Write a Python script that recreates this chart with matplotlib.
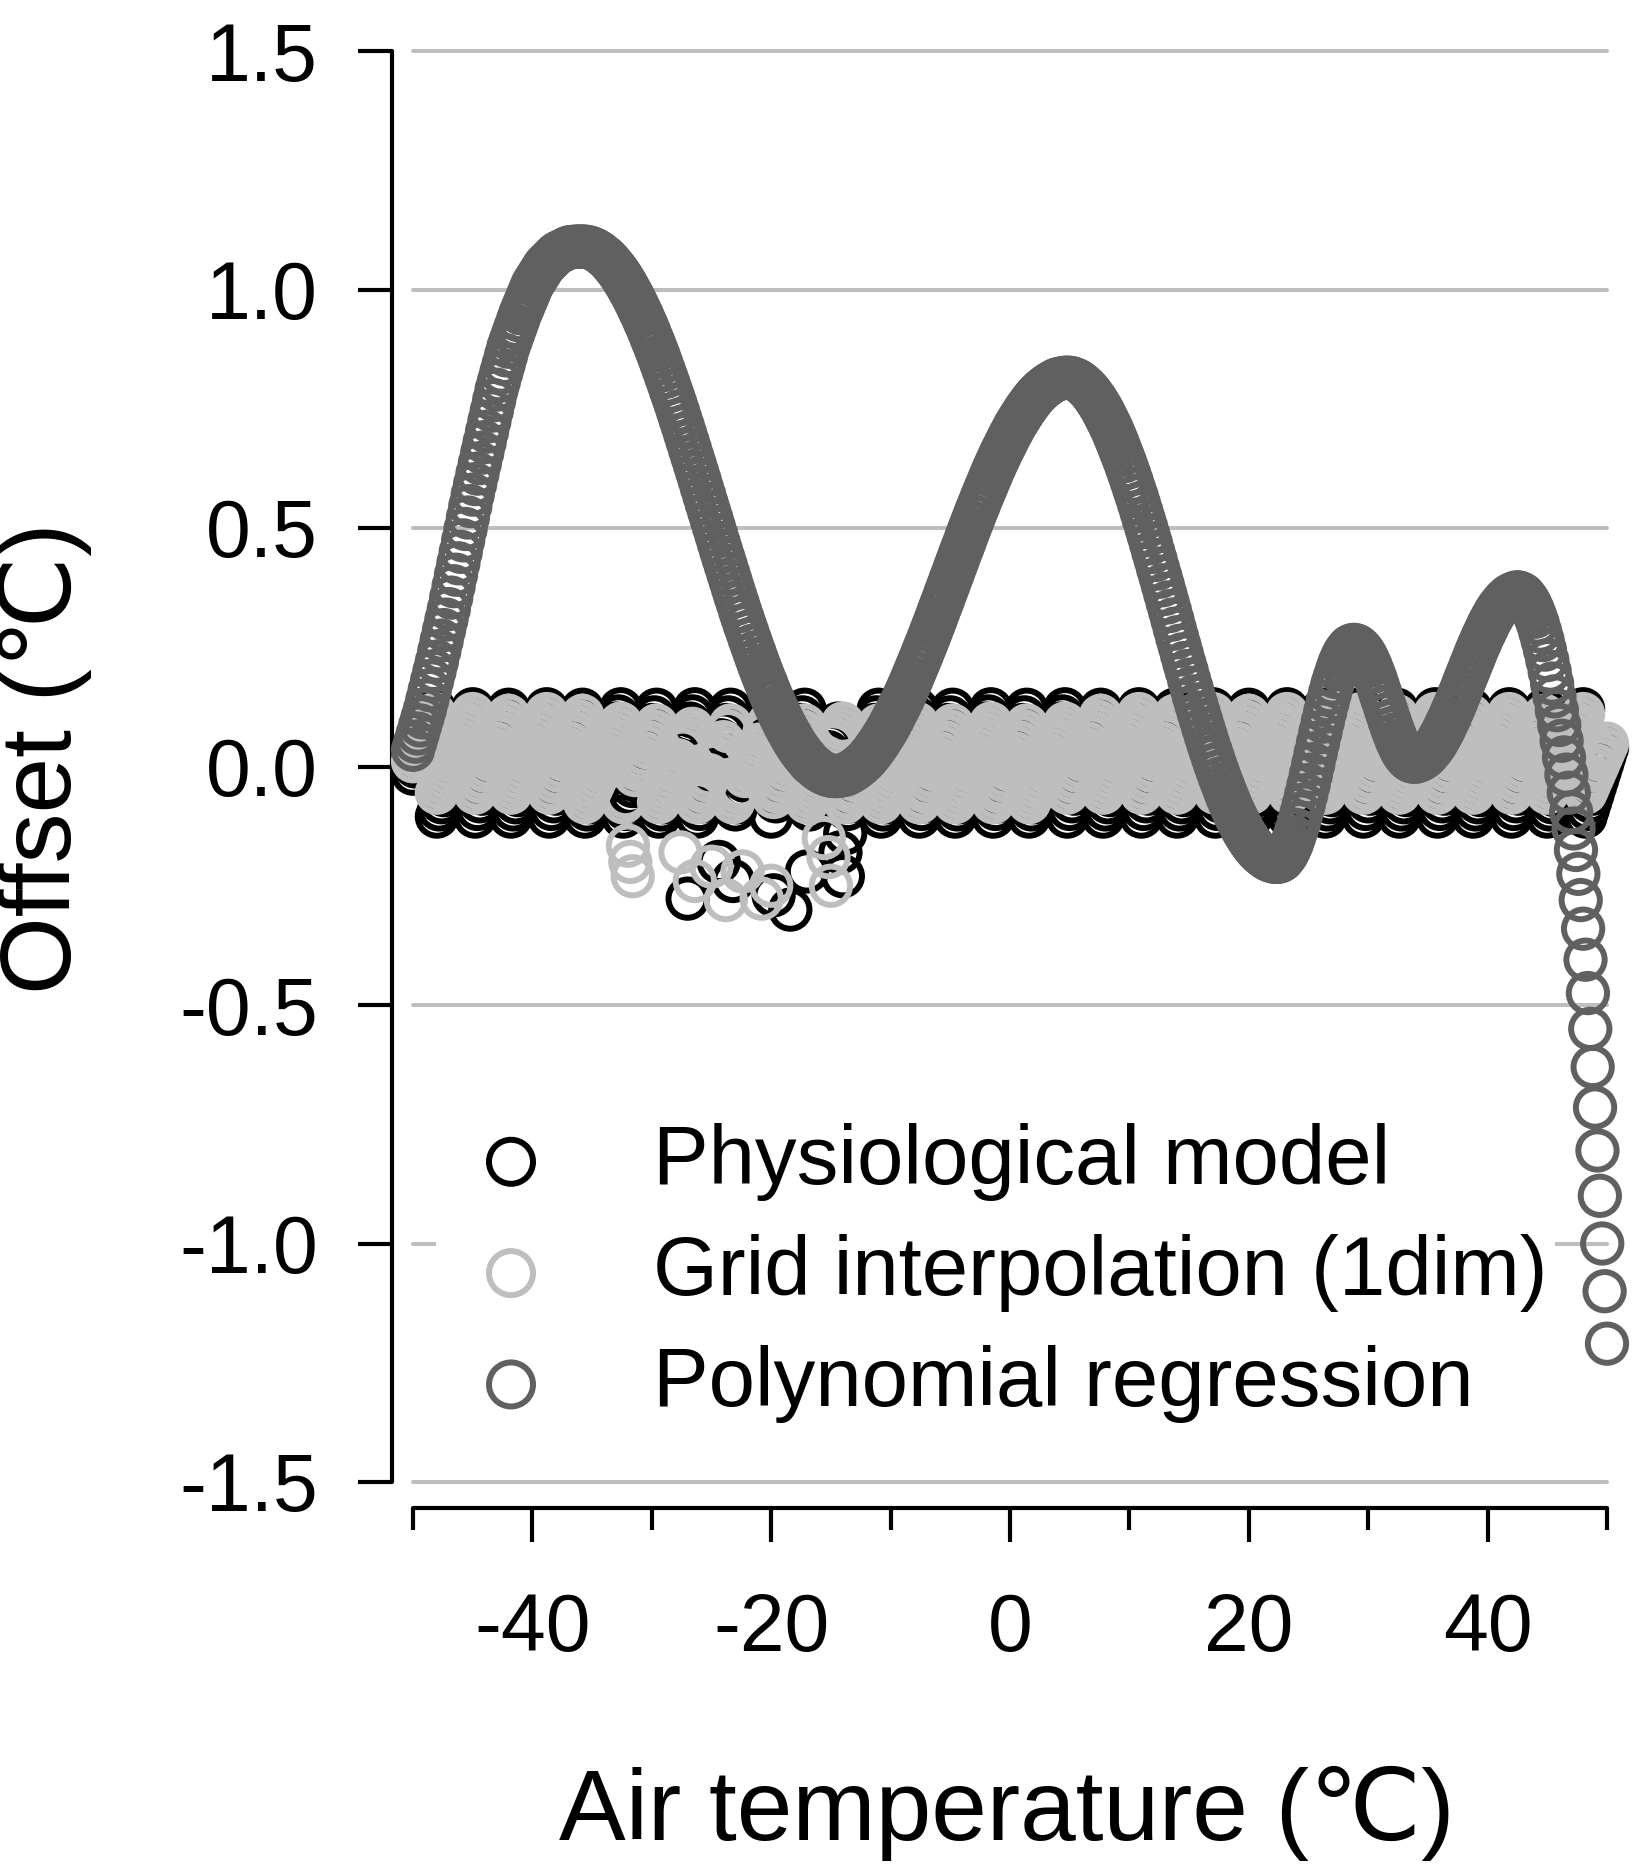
import numpy as np
import matplotlib
matplotlib.use("Agg")
import matplotlib.pyplot as plt

plt.rcParams['font.family'] = ['Liberation Sans', 'DejaVu Sans']

# ---------------- data ----------------
# air temperature grid (deg C), -50 .. 50 in 0.2 steps
air_temperature = np.round(np.linspace(-50, 50, 501), 1)

physiological_offset = [
    -0.015, 0.000, 0.015, 0.030, 0.045, 0.060, 0.075, 0.090, 0.105, 0.120,
    -0.105, -0.090, -0.075, -0.060, -0.045, -0.030, -0.015, 0.000, 0.015, 0.030, 0.045, 0.060, 0.075, 0.090, 0.105, 0.120,
    -0.105, -0.089, -0.073, -0.057, -0.041, -0.025, -0.009, 0.007, 0.023, 0.039, 0.055, 0.071, 0.087, 0.103, 0.119,
    -0.105, -0.090, -0.075, -0.060, -0.045, -0.030, -0.015, 0.000, 0.015, 0.030, 0.045, 0.060, 0.075, 0.090, 0.105, 0.120,
    -0.105, -0.089, -0.073, -0.057, -0.041, -0.025, -0.009, 0.007, 0.023, 0.039, 0.055, 0.071, 0.087, 0.103, 0.119,
    -0.105, -0.090, -0.075, -0.060, -0.045, -0.030, -0.015, 0.000, 0.015, 0.030, 0.045, 0.060, 0.075, 0.090, 0.105, 0.120,
    -0.105, -0.089, -0.073, -0.057, -0.041, -0.025, -0.009, 0.007, 0.023, 0.039, 0.055, 0.071, 0.087, 0.103, 0.119,
    -0.105, -0.090, -0.075, -0.060, -0.045, -0.030, -0.015, 0.000, 0.015, 0.030, 0.045, 0.060, -0.277, 0.090, 0.105, 0.120,
    -0.105, -0.089, -0.073, -0.057, -0.041, -0.025, -0.009, 0.007, 0.023, -0.200, 0.055, 0.071, 0.087, 0.103, 0.119,
    -0.240, -0.090, -0.075, -0.060, -0.045, -0.030, -0.015, 0.000, 0.015, 0.030, 0.045, 0.060, 0.075, 0.090, 0.105, 0.120,
    -0.105, -0.270, -0.073, -0.057, -0.041, -0.025, -0.009, 0.007, -0.300, 0.039, 0.055, 0.071, 0.087, 0.103, 0.119,
    -0.220, -0.090, -0.075, -0.060, -0.045, -0.030, -0.015, 0.000, 0.015, 0.030, 0.045, 0.060, 0.075, 0.090, -0.180, -0.230,
    -0.140, -0.089, -0.073, -0.057, -0.041, -0.025, -0.009, 0.007, 0.023, 0.039, 0.055, 0.071, 0.087, 0.103, 0.119,
    -0.105, -0.090, -0.075, -0.060, -0.045, -0.030, -0.015, 0.000, 0.015, 0.030, 0.045, 0.060, 0.075, 0.090, 0.105, 0.120,
    -0.105, -0.089, -0.073, -0.057, -0.041, -0.025, -0.009, 0.007, 0.023, 0.039, 0.055, 0.071, 0.087, 0.103, 0.119,
    -0.105, -0.090, -0.075, -0.060, -0.045, -0.030, -0.015, 0.000, 0.015, 0.030, 0.045, 0.060, 0.075, 0.090, 0.105, 0.120,
    -0.105, -0.089, -0.073, -0.057, -0.041, -0.025, -0.009, 0.007, 0.023, 0.039, 0.055, 0.071, 0.087, 0.103, 0.119,
    -0.105, -0.090, -0.075, -0.060, -0.045, -0.030, -0.015, 0.000, 0.015, 0.030, 0.045, 0.060, 0.075, 0.090, 0.105, 0.120,
    -0.105, -0.089, -0.073, -0.057, -0.041, -0.025, -0.009, 0.007, 0.023, 0.039, 0.055, 0.071, 0.087, 0.103, 0.119,
    -0.105, -0.090, -0.075, -0.060, -0.045, -0.030, -0.015, 0.000, 0.015, 0.030, 0.045, 0.060, 0.075, 0.090, 0.105, 0.120,
    -0.105, -0.089, -0.073, -0.057, -0.041, -0.025, -0.009, 0.007, 0.023, 0.039, 0.055, 0.071, 0.087, 0.103, 0.119,
    -0.105, -0.090, -0.075, -0.060, -0.045, -0.030, -0.015, 0.000, 0.015, 0.030, 0.045, 0.060, 0.075, 0.090, 0.105, 0.120,
    -0.105, -0.089, -0.073, -0.057, -0.041, -0.025, -0.009, 0.007, 0.023, 0.039, 0.055, 0.071, 0.087, 0.103, 0.119,
    -0.105, -0.090, -0.075, -0.060, -0.045, -0.030, -0.015, 0.000, 0.015, 0.030, 0.045, 0.060, 0.075, 0.090, 0.105, 0.120,
    -0.105, -0.089, -0.073, -0.057, -0.041, -0.025, -0.009, 0.007, 0.023, 0.039, 0.055, 0.071, 0.087, 0.103, 0.119,
    -0.105, -0.090, -0.075, -0.060, -0.045, -0.030, -0.015, 0.000, 0.015, 0.030, 0.045, 0.060, 0.075, 0.090, 0.105, 0.120,
    -0.105, -0.089, -0.073, -0.057, -0.041, -0.025, -0.009, 0.007, 0.023, 0.039, 0.055, 0.071, 0.087, 0.103, 0.119,
    -0.105, -0.090, -0.075, -0.060, -0.045, -0.030, -0.015, 0.000, 0.015, 0.030, 0.045, 0.060, 0.075, 0.090, 0.105, 0.120,
    -0.105, -0.089, -0.073, -0.057, -0.041, -0.025, -0.009, 0.007, 0.023, 0.039, 0.055, 0.071, 0.087, 0.103, 0.119,
    -0.105, -0.090, -0.075, -0.060, -0.045, -0.030, -0.015, 0.000, 0.015, 0.030, 0.045, 0.060, 0.075, 0.090, 0.105, 0.120,
    -0.105, -0.089, -0.073, -0.057, -0.041, -0.025, -0.009, 0.007, 0.023, 0.039, 0.055, 0.071, 0.087, 0.103, 0.119,
    -0.105, -0.090, -0.075, -0.060, -0.045, -0.030, -0.015, 0.000, 0.015, 0.030, 0.045, 0.060, 0.075, 0.090, 0.105, 0.120,
    -0.105, -0.089, -0.073, -0.057, -0.041, -0.025, -0.009, 0.007, 0.023, 0.039,
]

grid_interp_offset = [
    0.011, 0.022, 0.033, 0.044, 0.055, 0.066, 0.077, 0.088, 0.099, 0.110,
    -0.055, -0.044, -0.033, -0.022, -0.011, 0.000, 0.011, 0.022, 0.033, 0.044, 0.055, 0.066, 0.077, 0.088, 0.099, 0.110,
    -0.055, -0.044, -0.032, -0.021, -0.009, 0.002, 0.014, 0.025, 0.037, 0.048, 0.060, 0.071, 0.083, 0.094, 0.106,
    -0.055, -0.044, -0.033, -0.022, -0.011, 0.000, 0.011, 0.022, 0.033, 0.044, 0.055, 0.066, 0.077, 0.088, 0.099, 0.110,
    -0.055, -0.044, -0.032, -0.021, -0.009, 0.002, 0.014, 0.025, 0.037, 0.048, 0.060, 0.071, 0.083, 0.094, 0.106,
    -0.075, -0.064, -0.053, -0.042, -0.031, -0.020, -0.009, 0.002, 0.013, 0.024, 0.035, 0.046, 0.057, 0.068, 0.079, 0.090,
    -0.075, -0.064, -0.166, -0.200, -0.230, -0.018, -0.006, 0.005, 0.017, 0.028, 0.040, 0.051, 0.063, 0.074, 0.086,
    -0.075, -0.064, -0.053, -0.042, -0.031, -0.020, -0.009, 0.002, 0.013, -0.180, 0.035, 0.046, 0.057, 0.068, 0.079, -0.240,
    -0.075, -0.064, -0.052, -0.041, -0.029, -0.018, -0.210, 0.005, 0.017, 0.028, 0.040, 0.051, -0.280, 0.074, 0.086,
    -0.075, -0.064, -0.053, -0.042, -0.220, -0.020, -0.009, 0.002, 0.013, 0.024, 0.035, 0.046, -0.277, 0.068, 0.079, 0.090,
    -0.250, -0.064, -0.052, -0.041, -0.029, -0.018, -0.006, 0.005, 0.017, 0.028, 0.040, 0.051, 0.063, 0.074, 0.086,
    -0.075, -0.064, -0.053, -0.042, -0.031, -0.020, -0.009, -0.150, 0.013, -0.190, -0.250, 0.046, 0.057, 0.068, 0.079, 0.090,
    -0.075, -0.064, -0.052, -0.041, -0.029, -0.018, -0.006, 0.005, 0.017, 0.028, 0.040, 0.051, 0.063, 0.074, 0.086,
    -0.075, -0.064, -0.053, -0.042, -0.031, -0.020, -0.009, 0.002, 0.013, 0.024, 0.035, 0.046, 0.057, 0.068, 0.079, 0.090,
    -0.075, -0.064, -0.052, -0.041, -0.029, -0.018, -0.006, 0.005, 0.017, 0.028, 0.040, 0.051, 0.063, 0.074, 0.086,
    -0.075, -0.064, -0.053, -0.042, -0.031, -0.020, -0.009, 0.002, 0.013, 0.024, 0.035, 0.046, 0.057, 0.068, 0.079, 0.090,
    -0.075, -0.064, -0.052, -0.041, -0.029, -0.018, -0.006, 0.005, 0.017, 0.028, 0.040, 0.051, 0.063, 0.074, 0.086,
    -0.075, -0.064, -0.053, -0.042, -0.031, -0.020, -0.009, 0.002, 0.013, 0.024, 0.035, 0.046, 0.057, 0.068, 0.079, 0.090,
    -0.055, -0.044, -0.032, -0.021, -0.009, 0.002, 0.014, 0.025, 0.037, 0.048, 0.060, 0.071, 0.083, 0.094, 0.106,
    -0.055, -0.044, -0.033, -0.022, -0.011, 0.000, 0.011, 0.022, 0.033, 0.044, 0.055, 0.066, 0.077, 0.088, 0.099, 0.110,
    -0.055, -0.044, -0.032, -0.021, -0.009, 0.002, 0.014, 0.025, 0.037, 0.048, 0.060, 0.071, 0.083, 0.094, 0.106,
    -0.055, -0.044, -0.033, -0.022, -0.011, 0.000, 0.011, 0.022, 0.033, 0.044, 0.055, 0.066, 0.077, 0.088, 0.099, 0.110,
    -0.055, -0.044, -0.032, -0.021, -0.009, 0.002, 0.014, 0.025, 0.037, 0.048, 0.060, 0.071, 0.083, 0.094, 0.106,
    -0.055, -0.044, -0.033, -0.022, -0.011, 0.000, 0.011, 0.022, 0.033, 0.044, 0.055, 0.066, 0.077, 0.088, 0.099, 0.110,
    -0.055, -0.044, -0.032, -0.021, -0.009, 0.002, 0.014, 0.025, 0.037, 0.048, 0.060, 0.071, 0.083, 0.094, 0.106,
    -0.055, -0.044, -0.033, -0.022, -0.011, 0.000, 0.011, 0.022, 0.033, 0.044, 0.055, 0.066, 0.077, 0.088, 0.099, 0.110,
    -0.055, -0.044, -0.032, -0.021, -0.009, 0.002, 0.014, 0.025, 0.037, 0.048, 0.060, 0.071, 0.083, 0.094, 0.106,
    -0.055, -0.044, -0.033, -0.022, -0.011, 0.000, 0.011, 0.022, 0.033, 0.044, 0.055, 0.066, 0.077, 0.088, 0.099, 0.110,
    -0.055, -0.044, -0.032, -0.021, -0.009, 0.002, 0.014, 0.025, 0.037, 0.048, 0.060, 0.071, 0.083, 0.094, 0.106,
    -0.055, -0.044, -0.033, -0.022, -0.011, 0.000, 0.011, 0.022, 0.033, 0.044, 0.055, 0.066, 0.077, 0.088, 0.099, 0.110,
    -0.055, -0.044, -0.032, -0.021, -0.009, 0.002, 0.014, 0.025, 0.037, 0.048, 0.060, 0.071, 0.083, 0.094, 0.106,
    -0.055, -0.044, -0.033, -0.022, -0.011, 0.000, 0.011, 0.022, 0.033, 0.044, 0.055, 0.066, 0.077, 0.088, 0.099, 0.110,
    -0.055, -0.044, -0.032, -0.021, -0.009, 0.002, 0.014, 0.025, 0.037, 0.048,
]

polynomial_offset = [
    0.035, 0.052, 0.069, 0.086, 0.103, 0.120, 0.140, 0.160, 0.180, 0.200,
    0.220, 0.242, 0.264, 0.286, 0.308, 0.330, 0.354, 0.378, 0.402, 0.426,
    0.450, 0.474, 0.498, 0.522, 0.546, 0.570, 0.592, 0.614, 0.636, 0.658,
    0.680, 0.702, 0.724, 0.746, 0.768, 0.790, 0.808, 0.826, 0.844, 0.862,
    0.880, 0.894, 0.908, 0.922, 0.936, 0.950, 0.962, 0.974, 0.986, 0.998,
    1.010, 1.018, 1.026, 1.034, 1.042, 1.050, 1.055, 1.060, 1.065, 1.070,
    1.075, 1.078, 1.080, 1.083, 1.085, 1.088, 1.089, 1.089, 1.090, 1.090,
    1.090, 1.090,
    1.090, 1.089, 1.088, 1.086, 1.084, 1.081, 1.078, 1.074, 1.070, 1.066,
    1.061, 1.055, 1.049, 1.043, 1.036, 1.029, 1.021, 1.013, 1.004, 0.995,
    0.986, 0.976, 0.966, 0.955, 0.945, 0.933, 0.922, 0.910, 0.897, 0.885,
    0.872, 0.859, 0.845, 0.831, 0.817, 0.803, 0.788, 0.774, 0.759, 0.744,
    0.728, 0.713, 0.697, 0.681, 0.665, 0.649, 0.633, 0.617, 0.601, 0.584,
    0.568, 0.551, 0.535, 0.519, 0.502, 0.486, 0.469, 0.453, 0.437, 0.421,
    0.405, 0.389, 0.373, 0.357, 0.342, 0.326, 0.311, 0.296, 0.282, 0.267,
    0.253, 0.239, 0.225, 0.211, 0.198, 0.185, 0.173, 0.160, 0.148, 0.137,
    0.125, 0.115, 0.104, 0.094, 0.084, 0.075, 0.066, 0.057, 0.049, 0.041,
    0.034, 0.027, 0.021, 0.015, 0.009, 0.004, 0.000, -0.004, -0.008, -0.011,
    -0.014, -0.016, -0.018, -0.019, -0.020, -0.020,
    -0.020, -0.019, -0.018, -0.017, -0.015, -0.012, -0.009, -0.006, -0.002, 0.002,
    0.006, 0.011, 0.016, 0.022, 0.028, 0.035, 0.042, 0.049, 0.057, 0.065,
    0.073, 0.081, 0.091, 0.100, 0.110, 0.120, 0.130, 0.140, 0.151, 0.162,
    0.173, 0.185, 0.197, 0.209, 0.221, 0.233, 0.246, 0.258, 0.271, 0.284,
    0.297, 0.310, 0.324, 0.337, 0.350, 0.364, 0.377, 0.391, 0.404, 0.418,
    0.431, 0.445, 0.458, 0.471, 0.485, 0.498, 0.511, 0.524, 0.537, 0.549,
    0.562, 0.574, 0.586, 0.598, 0.610, 0.622, 0.633, 0.644, 0.655, 0.665,
    0.675, 0.685, 0.695, 0.704, 0.714, 0.722, 0.730, 0.738, 0.746, 0.753,
    0.760, 0.767, 0.773, 0.779, 0.784, 0.789, 0.793, 0.797, 0.801, 0.804,
    0.807, 0.810, 0.812, 0.813, 0.814, 0.815, 0.815,
    0.815, 0.814, 0.812, 0.810, 0.807, 0.803, 0.799, 0.794, 0.789, 0.783,
    0.776, 0.769, 0.761, 0.753, 0.744, 0.734, 0.724, 0.714, 0.703, 0.691,
    0.679, 0.666, 0.653, 0.640, 0.626, 0.612, 0.597, 0.582, 0.567, 0.551,
    0.535, 0.518, 0.502, 0.485, 0.468, 0.450, 0.433, 0.415, 0.398, 0.380,
    0.362, 0.344, 0.326, 0.308, 0.289, 0.271, 0.253, 0.235, 0.217, 0.200,
    0.182, 0.165, 0.147, 0.130, 0.113, 0.097, 0.080, 0.064, 0.048, 0.033,
    0.018, 0.003, -0.011, -0.025, -0.038, -0.051, -0.064, -0.076, -0.088, -0.099,
    -0.109, -0.119, -0.129, -0.138, -0.146, -0.154, -0.161, -0.168, -0.174, -0.179,
    -0.184, -0.188, -0.192, -0.195, -0.197, -0.199, -0.200, -0.200,
    -0.199, -0.196, -0.190, -0.183, -0.173, -0.162, -0.148, -0.133, -0.117, -0.099,
    -0.080, -0.060, -0.039, -0.017, 0.005, 0.028, 0.050, 0.072, 0.094, 0.115,
    0.135, 0.154, 0.172, 0.188, 0.203, 0.217, 0.228, 0.238, 0.245, 0.251,
    0.254, 0.255,
    0.254, 0.251, 0.246, 0.240, 0.232, 0.222, 0.211, 0.198, 0.185, 0.170,
    0.155, 0.140, 0.125, 0.110, 0.095, 0.080, 0.067, 0.054, 0.043, 0.033,
    0.025, 0.019, 0.014, 0.011, 0.010,
    0.010, 0.012, 0.014, 0.017, 0.021, 0.026, 0.032, 0.038, 0.045, 0.053,
    0.062, 0.071, 0.081, 0.092, 0.102, 0.114, 0.125, 0.137, 0.150, 0.162,
    0.175, 0.188, 0.200, 0.213, 0.225, 0.238, 0.250, 0.261, 0.273, 0.283,
    0.294, 0.304, 0.313, 0.322, 0.330, 0.337, 0.343, 0.349, 0.354, 0.358,
    0.361, 0.363, 0.365, 0.365,
    0.363, 0.360, 0.354, 0.347, 0.338, 0.327, 0.314, 0.300, 0.283, 0.265,
    0.245, 0.223, 0.199, 0.174, 0.147, 0.118, 0.087, 0.054, 0.019, -0.017,
    -0.055, -0.096, -0.130, -0.175, -0.225, -0.280, -0.340, -0.405, -0.475, -0.550,
    -0.630, -0.715, -0.805, -0.900, -1.000, -1.100, -1.210,
]

series_labels = ["Physiological model", "Grid interpolation (1dim)", "Polynomial regression"]
series_colors = ["#000000", "#BEBEBE", "#606060"]
y_ticks = [-1.5, -1.0, -0.5, 0.0, 0.5, 1.0, 1.5]
y_tick_labels = ["-1.5", "-1.0", "-0.5", "0.0", "0.5", "1.0", "1.5"]
x_major_ticks = [-40, -20, 0, 20, 40]
x_major_labels = ["-40", "-20", "0", "20", "40"]
x_minor_ticks = [-50, -30, -10, 10, 30, 50]

assert len(physiological_offset) == len(air_temperature), len(physiological_offset)
assert len(grid_interp_offset) == len(air_temperature), len(grid_interp_offset)
assert len(polynomial_offset) == len(air_temperature), len(polynomial_offset)

# ---------------- figure ----------------
W, H = 1632, 1864
fig = plt.figure(figsize=(W / 100, H / 100), dpi=100, facecolor="white")
ax = fig.add_axes([413 / W, 382 / H, 1194 / W, 1431 / H])
ax.set_xlim(-50, 50)
ax.set_ylim(-1.5, 1.5)
ax.set_facecolor("white")

for yv in y_ticks:
    ax.axhline(yv, color="#BEBEBE", lw=2.9, zorder=0, clip_on=False,
               solid_capstyle="round")

all_series = [physiological_offset, grid_interp_offset, polynomial_offset]
for k, (vals, lab, col) in enumerate(zip(all_series, series_labels, series_colors)):
    ax.scatter(air_temperature, vals, s=760, facecolors="none", edgecolors=col,
               linewidths=4.3, clip_on=False, zorder=2 + k, label=lab)

for side in ["top", "right"]:
    ax.spines[side].set_visible(False)
ax.spines["left"].set_position(("outward", 15.1))
ax.spines["bottom"].set_position(("outward", 18.7))
ax.spines["left"].set_bounds(-1.5, 1.5)
ax.spines["bottom"].set_bounds(-50, 50)
for side in ["left", "bottom"]:
    ax.spines[side].set_linewidth(3.0)
    ax.spines[side].set_capstyle("round")

ax.set_yticks(y_ticks)
ax.set_yticklabels(y_tick_labels)
ax.set_xticks(x_major_ticks)
ax.set_xticklabels(x_major_labels)
ax.set_xticks(x_minor_ticks, minor=True)
ax.tick_params(axis="y", length=24.5, width=3.0, pad=29, labelsize=58)
ax.tick_params(axis="x", which="major", length=24.5, width=3.0, pad=36, labelsize=58)
ax.tick_params(axis="x", which="minor", length=15.8, width=3.0)

fig.text(1007 / W, 24 / H, "Air temperature (\u2103)", ha="center", va="baseline",
         fontsize=72)
fig.text(44 / W, 1 - 758 / H, "Offset (\u2103)", ha="center", va="center",
         rotation=90, fontsize=72)

leg = ax.legend(loc="center left", bbox_to_anchor=(436 / W, 1 - 1273 / H),
                bbox_transform=fig.transFigure, fontsize=60, frameon=True,
                facecolor="white", edgecolor="none", framealpha=1,
                handlelength=1.6, handletextpad=0.9, labelspacing=0.4,
                borderpad=0.1, borderaxespad=0, markerscale=1.15,
                scatterpoints=1)
leg.set_zorder(10)

fig.savefig("out.png", dpi=100, facecolor="white")
